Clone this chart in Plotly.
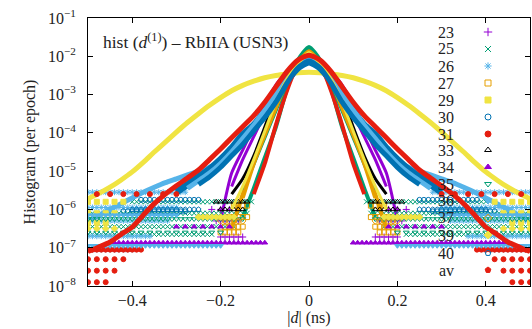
import plotly.graph_objects as go

# ---------------- data ----------------
series_names = ["23", "25", "26", "27", "29", "30", "31", "33", "34", "35", "36", "37", "39", "40", "av"]

# positive half of |d| (ns) for the dense core of each histogram (mirrored to negative side)
x_core = [0.0, 0.025, 0.05, 0.075, 0.1, 0.125, 0.15, 0.175, 0.2, 0.225, 0.25,
          0.275, 0.3, 0.325, 0.35, 0.375, 0.4, 0.425, 0.45, 0.475, 0.5]

# log10 of histogram value on x_core (None = core not present)
core_23 = [-1.90, -2.10, -2.40, -2.75, -3.25, -3.85, -4.45, -5.05, -6.30]
core_25 = [-1.76, -2.10, -2.85, -3.85, -4.65, -5.45, -6.20]
core_26 = [-2.10, -2.30, -2.70, -3.15, -3.55, -3.95, -4.25, -4.55, -4.75, -4.90, -5.00,
           -5.10, -5.20, -5.30, -5.42, -5.55, -5.70, -5.85, -6.00, -6.15, -6.30]
core_27 = [-1.85, -2.15, -2.60, -3.30, -4.00, -4.70, -5.60, -6.50]
core_29 = [-2.42, -2.43, -2.46, -2.50, -2.56, -2.65, -2.76, -2.90, -3.08, -3.28, -3.50,
           -3.73, -3.98, -4.24, -4.50, -4.77, -5.02, -5.23, -5.42, -5.58, -5.72]
core_30 = [-2.15, -2.30, -2.65, -3.10, -3.45, -3.80, -4.05, -4.40, -4.70, -4.95, -5.15,
           -5.35, -5.55]
core_31 = [-1.88, -2.20, -2.90, -3.80, -4.80, -5.60]
core_33 = [-1.95, -2.20, -2.55, -3.05, -3.85, -4.60, -5.20, -5.60]
core_34 = [-1.92, -2.15, -2.50, -2.95, -3.50, -4.10, -4.70, -5.40]
core_35 = [-1.80, -2.15, -2.70, -3.40, -4.10, -4.80, -5.50]
core_36 = [-2.05, -2.25, -2.60, -3.00, -3.40, -3.80, -4.15, -4.50, -4.80, -5.05, -5.25, -5.45]
core_37 = [-1.87, -2.17, -2.65, -3.35, -4.05, -4.80, -5.70]
core_39 = [-1.90, -2.20, -2.60, -3.20, -3.95, -4.70, -5.40, -6.00]
core_40 = [-2.12, -2.30, -2.70, -3.20, -3.60, -3.95, -4.30, -4.60, -4.90, -5.15, -5.35]
core_av = [-1.97, -2.10, -2.40, -2.80, -3.20, -3.55, -3.84, -4.13, -4.42, -4.70, -4.97,
           -5.18, -5.38, -5.60, -5.85, -6.15, -6.46, -6.65, -6.85, -6.98, -7.10]

# positions of the sparse low-count points (|d|, ns)
x_floor = [0.00, 0.01, 0.02, 0.03, 0.04, 0.05, 0.06, 0.07, 0.08, 0.09, 0.10, 0.11, 0.12,
           0.13, 0.14, 0.15, 0.16, 0.17, 0.18, 0.19, 0.20, 0.21, 0.22, 0.23, 0.24, 0.25,
           0.26, 0.27, 0.28, 0.29, 0.30, 0.31, 0.32, 0.33, 0.34, 0.35, 0.36, 0.37, 0.38,
           0.39, 0.40, 0.41, 0.42, 0.43, 0.44, 0.45, 0.46, 0.47, 0.48, 0.49, 0.50]

# low-count rows: (log10 level, |d| from, |d| to, every n-th position)
floor_23 = [(-6.72, 0.15, 0.20, 1), (-6.30, 0.16, 0.21, 1), (-6.00, 0.17, 0.22, 2)]
floor_25 = [(-5.80, 0.13, 0.40, 1), (-6.10, 0.14, 0.50, 1), (-6.45, 0.17, 0.50, 1), (-6.65, 0.22, 0.50, 1)]
floor_26 = [(-5.55, 0.28, 0.50, 1), (-5.95, 0.30, 0.50, 1), (-6.30, 0.32, 0.50, 1),
            (-6.70, 0.36, 0.50, 1), (-7.05, 0.40, 0.50, 1)]
floor_27 = [(-5.90, 0.14, 0.17, 1), (-6.20, 0.14, 0.18, 1), (-6.45, 0.15, 0.19, 1), (-6.60, 0.16, 0.20, 1)]
floor_29 = [(-5.80, 0.42, 0.50, 2), (-6.10, 0.44, 0.50, 2), (-6.35, 0.45, 0.50, 2)]
floor_30 = [(-5.75, 0.25, 0.38, 1), (-6.05, 0.28, 0.42, 1)]
floor_31 = [(-5.60, 0.28, 0.48, 3), (-7.05, 0.38, 0.50, 1), (-7.30, 0.42, 0.50, 2),
            (-7.60, 0.43, 0.50, 2), (-7.90, 0.45, 0.50, 2)]
floor_33 = [(-5.80, 0.14, 0.21, 1), (-6.00, 0.15, 0.20, 1)]
floor_34 = [(-6.87, 0.10, 0.45, 1), (-6.45, 0.18, 0.30, 2)]
floor_35 = [(-6.25, 0.15, 0.50, 1), (-6.60, 0.20, 0.50, 2)]
floor_36 = [(-6.95, 0.20, 0.50, 1), (-6.15, 0.30, 0.50, 1)]
floor_37 = [(-6.30, 0.15, 0.20, 1)]
floor_39 = [(-6.20, 0.17, 0.25, 1), (-6.50, 0.44, 0.50, 2)]
floor_40 = [(-6.00, 0.25, 0.40, 1)]
floor_av = []

cores = [core_23, core_25, core_26, core_27, core_29, core_30, core_31, core_33,
         core_34, core_35, core_36, core_37, core_39, core_40, core_av]
floors = [floor_23, floor_25, floor_26, floor_27, floor_29, floor_30, floor_31, floor_33,
          floor_34, floor_35, floor_36, floor_37, floor_39, floor_40, floor_av]

y_tick_exp = [-8, -7, -6, -5, -4, -3, -2, -1]
x_ticks = [-0.4, -0.2, 0.0, 0.2, 0.4]
x_tick_text = ["\u22120.4", "\u22120.2", "0", "0.2", "0.4"]

# ---------------- styles ----------------
colors = ["#9400d3", "#009e73", "#56b4e9", "#e69f00", "#f0e442", "#0072b2", "#e51e10", "#000000",
          "#9400d3", "#009e73", "#56b4e9", "#e69f00", "#f0e442", "#0072b2", "#e51e10"]
symbols = ["cross-thin-open", "x-thin-open", "asterisk-open", "square-open", "square", "circle-open",
           "circle", "triangle-up-open", "triangle-up", "triangle-down-open", "triangle-down",
           "diamond-open", "diamond", "pentagon-open", "pentagon"]
core_width = [3, 4, 5, 4, 5, 7, 4, 3, 3, 4, 5, 4, 3, 5, 5]
legend_rows_px = [32, 49, 66, 83, 100, 117, 134, 150, 167, 184, 201, 218, 235, 253, 270]

FONT = "Liberation Serif"
L, R, T, B = 88, 2, 18, 43
W, H = 532, 329
PH = H - T - B

fig = go.Figure()

for i, name in enumerate(series_names):
    col = colors[i]
    # low-count rows
    fx, fy = [], []
    for (lvl, a, b, every) in floors[i]:
        for k, xv in enumerate(x_floor):
            if a - 1e-9 <= xv <= b + 1e-9 and k % every == 0:
                fx += [-xv, xv]
                fy += [10 ** lvl, 10 ** lvl]
    if fx:
        fig.add_trace(go.Scatter(
            x=fx, y=fy, mode="markers", showlegend=False, hoverinfo="skip",
            marker=dict(symbol=symbols[i], size=5, color=col,
                        line=dict(color=col, width=1))))
    # dense core
    c = cores[i]
    xs = [-v for v in reversed(x_core[:len(c)])] + x_core[1:len(c)]
    ys = [10 ** v for v in reversed(c)] + [10 ** v for v in c[1:]]
    fig.add_trace(go.Scatter(
        x=xs, y=ys, mode="lines", showlegend=False, hoverinfo="skip",
        line=dict(color=col, width=core_width[i], shape="spline", smoothing=0.6)))

# legend keys (overlay axis in plot-fraction coordinates)
for i, name in enumerate(series_names):
    col = colors[i]
    yp = (T + PH - legend_rows_px[i]) / PH
    fig.add_trace(go.Scatter(
        x=[0.905], y=[yp], xaxis="x2", yaxis="y2", mode="markers", showlegend=False,
        hoverinfo="skip",
        marker=dict(symbol=symbols[i], size=6, color=col, line=dict(color=col, width=1))))

annotations = []
for i, name in enumerate(series_names):
    yp = (T + PH - legend_rows_px[i]) / PH
    annotations.append(dict(
        x=(456 - L) / (W - L - R), y=yp, xref="paper", yref="paper", text=name,
        showarrow=False, xanchor="right", yanchor="middle",
        font=dict(family=FONT, size=16, color="#222222")))

annotations.append(dict(
    x=(101 - L) / (W - L - R), y=(T + PH - 41) / PH, xref="paper", yref="paper",
    text="hist (<i>d</i><sup>(1)</sup>) \u2013 RbIIA (USN3)", showarrow=False,
    xanchor="left", yanchor="middle", font=dict(family=FONT, size=17.5, color="#222222")))

fig.update_layout(
    width=W, height=H, margin=dict(l=L, r=R, t=T, b=B),
    paper_bgcolor="white", plot_bgcolor="white",
    font=dict(family=FONT, size=16, color="#222222"),
    annotations=annotations,
    xaxis=dict(range=[-0.5, 0.5], tickvals=x_ticks, ticktext=x_tick_text,
               ticks="inside", ticklen=5, tickcolor="black", showline=True, linecolor="black",
               linewidth=1, mirror="ticks", showgrid=False, zeroline=False,
               title=dict(text="|<i>d</i>| (ns)", standoff=2, font=dict(size=16)),
               tickfont=dict(size=16)),
    yaxis=dict(type="log", range=[-8, -1],
               tickvals=[10 ** e for e in y_tick_exp],
               ticktext=["10<sup>\u2212%d</sup>" % (-e) for e in y_tick_exp],
               ticks="inside", ticklen=5, tickcolor="black", showline=True, linecolor="black",
               linewidth=1, mirror="ticks", showgrid=False, zeroline=False,
               ticklabelstandoff=8,
               title=dict(text="Histogram (per epoch)", standoff=8, font=dict(size=16)),
               tickfont=dict(size=16)),
    xaxis2=dict(overlaying="x", range=[0, 1], visible=False, fixedrange=True),
    yaxis2=dict(overlaying="y", range=[0, 1], visible=False, fixedrange=True),
)

fig.write_html("out.html")
